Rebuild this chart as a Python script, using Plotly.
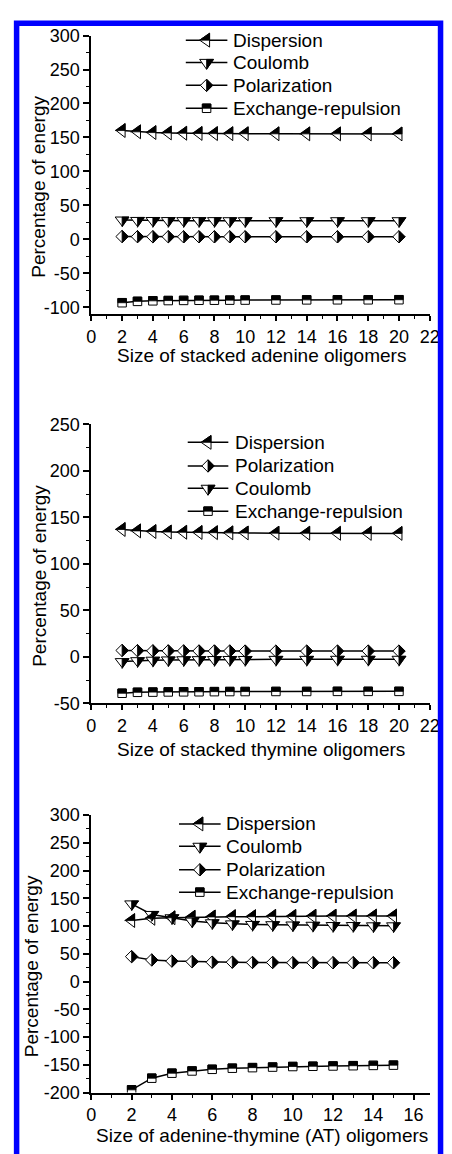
import math
import plotly.graph_objects as go

W, H = 452, 1154

# ---------------- data ----------------
# Panel 1: stacked adenine oligomers
a_x = [2, 3, 4, 5, 6, 7, 8, 9, 10, 12, 14, 16, 18, 20]
a_disp = [160.2, 158.3, 157.2, 156.6, 156.2, 155.9, 155.7, 155.6, 155.5, 155.4, 155.3, 155.3, 155.2, 155.2]
a_coul = [28.5, 27.9, 27.8, 27.7, 27.6, 27.6, 27.6, 27.5, 27.5, 27.5, 27.5, 27.5, 27.5, 27.5]
a_pol = [4.2, 4.0, 3.9, 3.9, 3.8, 3.8, 3.8, 3.8, 3.8, 3.8, 3.8, 3.8, 3.8, 3.8]
a_exch = [-93.2, -91.2, -90.4, -90.0, -89.8, -89.6, -89.5, -89.4, -89.3, -89.2, -89.0, -88.9, -88.9, -88.8]

# Panel 2: stacked thymine oligomers
t_x = [2, 3, 4, 5, 6, 7, 8, 9, 10, 12, 14, 16, 18, 20]
t_disp = [137.0, 135.5, 134.8, 134.3, 134.0, 133.8, 133.6, 133.4, 133.3, 133.1, 133.0, 132.9, 132.8, 132.8]
t_pol = [7.0, 6.8, 6.6, 6.5, 6.5, 6.4, 6.4, 6.4, 6.3, 6.3, 6.3, 6.3, 6.3, 6.3]
t_coul = [-5.0, -4.0, -3.5, -3.2, -3.0, -2.9, -2.8, -2.7, -2.7, -2.6, -2.6, -2.5, -2.5, -2.5]
t_exch = [-39.0, -38.0, -37.8, -37.6, -37.5, -37.4, -37.3, -37.2, -37.2, -37.1, -37.1, -37.0, -37.0, -37.0]

# Panel 3: adenine-thymine (AT) oligomers
at_x = [2, 3, 4, 5, 6, 7, 8, 9, 10, 11, 12, 13, 14, 15]
at_disp = [110.0, 114.0, 115.0, 116.0, 116.5, 117.0, 117.0, 117.5, 117.5, 117.8, 118.0, 118.0, 118.0, 118.0]
at_coul = [140.0, 121.0, 115.0, 109.0, 106.0, 104.0, 103.0, 102.5, 102.0, 101.5, 101.0, 101.0, 100.5, 100.5]
at_pol = [45.0, 39.0, 37.0, 36.0, 35.0, 35.0, 34.5, 34.5, 34.0, 34.0, 34.0, 34.0, 34.0, 34.0]
at_exch = [-195.0, -174.0, -165.0, -161.0, -158.0, -156.0, -155.0, -154.0, -153.0, -152.5, -152.0, -151.5, -151.0, -150.5]

x_titles = ["Size of stacked adenine oligomers",
            "Size of stacked thymine oligomers",
            "Size of adenine-thymine (AT) oligomers"]
y_title = "Percentage of energy"

# ---------------- styling ----------------
FONT = "Liberation Sans, Arial, sans-serif"
FS = 19
TFS = 18
SIZES = {"triangle-left": 12, "triangle-down": 12, "diamond": 9.5, "square": 8.5}
KIND = {"Dispersion": "triangle-left", "Coulomb": "triangle-down",
        "Polarization": "diamond", "Exchange-repulsion": "square"}


def px_x(px):
    return px / W


def px_y(py):
    return 1 - py / H


def f(v):
    return f"{v:.2f}"


def full_path(kind):
    r = SIZES[kind] / 2
    if kind == "triangle-left":
        rt, r2 = r * 2 / math.sqrt(3), r / 2
        pts = [(-rt, 0), (r2, rt), (r2, -rt)]
    elif kind == "triangle-down":
        rt, r2 = r * 2 / math.sqrt(3), r / 2
        pts = [(-rt, r2), (rt, r2), (0, -rt)]
    elif kind == "diamond":
        rd = r * 1.3
        pts = [(rd, 0), (0, rd), (-rd, 0), (0, -rd)]
    else:
        pts = [(r, r), (-r, r), (-r, -r), (r, -r)]
    return "M" + " L".join(f"{f(a)},{f(b)}" for a, b in pts) + " Z"


def half_path(kind):
    r = SIZES[kind] / 2
    if kind == "triangle-left":   # upper half filled
        rt, r2 = r * 2 / math.sqrt(3), r / 2
        pts = [(-rt, 0), (r2, 0), (r2, rt)]
    elif kind == "triangle-down":  # right half filled
        rt, r2 = r * 2 / math.sqrt(3), r / 2
        pts = [(0, r2), (rt, r2), (0, -rt)]
    elif kind == "diamond":        # right half filled
        rd = r * 1.3
        pts = [(0, rd), (rd, 0), (0, -rd)]
    else:                          # upper half filled
        pts = [(-r, 0), (r, 0), (r, r), (-r, r)]
    return "M" + " L".join(f"{f(a)},{f(b)}" for a, b in pts) + " Z"


panels = [
    dict(x=a_x, series=[("Dispersion", a_disp), ("Coulomb", a_coul),
                        ("Polarization", a_pol), ("Exchange-repulsion", a_exch)],
         yrange=[-110, 300], yticks=list(range(-100, 301, 50)),
         xrange=[0, 22], xticks=list(range(0, 23, 2)),
         top=26, bottom=309.5),
    dict(x=t_x, series=[("Dispersion", t_disp), ("Polarization", t_pol),
                        ("Coulomb", t_coul), ("Exchange-repulsion", t_exch)],
         yrange=[-50, 250], yticks=list(range(-50, 251, 50)),
         xrange=[0, 22], xticks=list(range(0, 23, 2)),
         top=421.7, bottom=705.7),
    dict(x=at_x, series=[("Dispersion", at_disp), ("Coulomb", at_coul),
                         ("Polarization", at_pol), ("Exchange-repulsion", at_exch)],
         yrange=[-200, 300], yticks=list(range(-200, 301, 50)),
         xrange=[0, 16.8], xticks=list(range(0, 17, 2)),
         top=819.3, bottom=1101.7),
]

# legend layout (reference pixels) per panel: line x0, x1, text x, row y's
legend_px = [
    dict(x0=187, x1=230, tx=234, rows=[30.7, 53.3, 76.7, 100.0]),
    dict(x0=189, x1=231, tx=236, rows=[440.0, 464.0, 486.7, 510.0]),
    dict(x0=180, x1=223, tx=227, rows=[828.3, 851.0, 875.0, 897.7]),
]
title_px = [(265, 351.5), (265, 752.5), (265.5, 1145.5)]
ytitle_px = [(35, 180), (35, 576), (27, 973)]

PLOT_L, PLOT_R = 89.3, 439.3

fig = go.Figure()
shapes = []
annotations = []
layout_axes = {}

for i, p in enumerate(panels):
    n = "" if i == 0 else str(i + 1)
    xa, ya = "x" + n, "y" + n
    dom_y = [px_y(p["bottom"]), px_y(p["top"])]
    dom_x = [px_x(PLOT_L), px_x(PLOT_R)]
    layout_axes["xaxis" + n] = dict(
        domain=dom_x, range=p["xrange"], anchor=ya,
        tickmode="array", tickvals=p["xticks"], ticktext=[str(v) for v in p["xticks"]],
        showline=True, linecolor="black", linewidth=2, mirror=False,
        ticks="outside", ticklen=5, tickwidth=1.5, tickcolor="black",
        minor=dict(ticks="outside", ticklen=3, tickwidth=1.2, tickcolor="black", dtick=1, tick0=0),
        showgrid=False, zeroline=False, fixedrange=True,
        tickfont=dict(family=FONT, size=TFS, color="black"))
    layout_axes["yaxis" + n] = dict(
        domain=dom_y, range=p["yrange"], anchor=xa,
        tickmode="array", tickvals=p["yticks"], ticktext=[str(v) for v in p["yticks"]],
        showline=True, linecolor="black", linewidth=2, mirror=False,
        ticks="outside", ticklen=6, tickwidth=1.5, tickcolor="black",
        minor=dict(ticks="outside", ticklen=3, tickwidth=1.2, tickcolor="black", dtick=25, tick0=0),
        showgrid=False, zeroline=False, fixedrange=True,
        tickfont=dict(family=FONT, size=TFS, color="black"))

    for name, vals in p["series"]:
        kind = KIND[name]
        fig.add_trace(go.Scatter(
            x=p["x"], y=vals, xaxis=xa, yaxis=ya, mode="lines+markers", name=name,
            showlegend=False, line=dict(color="black", width=1.5),
            marker=dict(symbol=kind, size=SIZES[kind], color="white",
                        line=dict(color="black", width=1))))
        hp = half_path(kind)
        for xv, yv in zip(p["x"], vals):
            shapes.append(dict(type="path", xref=xa, yref=ya, xsizemode="pixel", ysizemode="pixel",
                               xanchor=xv, yanchor=yv, path=hp, fillcolor="black",
                               line=dict(color="black", width=0.8), layer="above"))

    # legend
    lg = legend_px[i]
    for (name, _), ry in zip(p["series"], lg["rows"]):
        kind = KIND[name]
        yp = px_y(ry)
        shapes.append(dict(type="line", xref="paper", yref="paper",
                           x0=px_x(lg["x0"]), x1=px_x(lg["x1"]), y0=yp, y1=yp,
                           line=dict(color="black", width=1.5), layer="above"))
        cx = px_x((lg["x0"] + lg["x1"]) / 2)
        shapes.append(dict(type="path", xref="paper", yref="paper", xsizemode="pixel", ysizemode="pixel",
                           xanchor=cx, yanchor=yp, path=full_path(kind), fillcolor="white",
                           line=dict(color="black", width=1), layer="above"))
        shapes.append(dict(type="path", xref="paper", yref="paper", xsizemode="pixel", ysizemode="pixel",
                           xanchor=cx, yanchor=yp, path=half_path(kind), fillcolor="black",
                           line=dict(color="black", width=0.8), layer="above"))
        annotations.append(dict(text=name, xref="paper", yref="paper", x=px_x(lg["tx"]), y=yp,
                                xanchor="left", yanchor="middle", showarrow=False,
                                font=dict(family=FONT, size=FS, color="black")))

    tx, ty = title_px[i]
    annotations.append(dict(text=x_titles[i], xref="paper", yref="paper", x=px_x(tx), y=px_y(ty),
                            xanchor="center", yanchor="middle", showarrow=False,
                            font=dict(family=FONT, size=FS, color="black")))
    yx, yy = ytitle_px[i]
    annotations.append(dict(text=y_title, xref="paper", yref="paper", x=px_x(yx), y=px_y(yy),
                            xanchor="center", yanchor="middle", showarrow=False, textangle=-90,
                            font=dict(family=FONT, size=FS, color="black")))

# blue frame (runs off the bottom of the picture, as in the reference)
shapes.append(dict(type="rect", xref="paper", yref="paper",
                   x0=px_x(12), x1=px_x(450.5), y0=px_y(1175), y1=px_y(13.5),
                   line=dict(color="rgb(0,0,255)", width=5.5), fillcolor="rgba(0,0,0,0)", layer="above"))

fig.update_layout(
    width=W, height=H, autosize=False,
    margin=dict(l=0, r=0, t=0, b=0, pad=0),
    paper_bgcolor="white", plot_bgcolor="white",
    font=dict(family=FONT, size=FS, color="black"),
    showlegend=False, shapes=shapes, annotations=annotations,
    **layout_axes)

fig.write_html("out.html", config={"displayModeBar": False})
